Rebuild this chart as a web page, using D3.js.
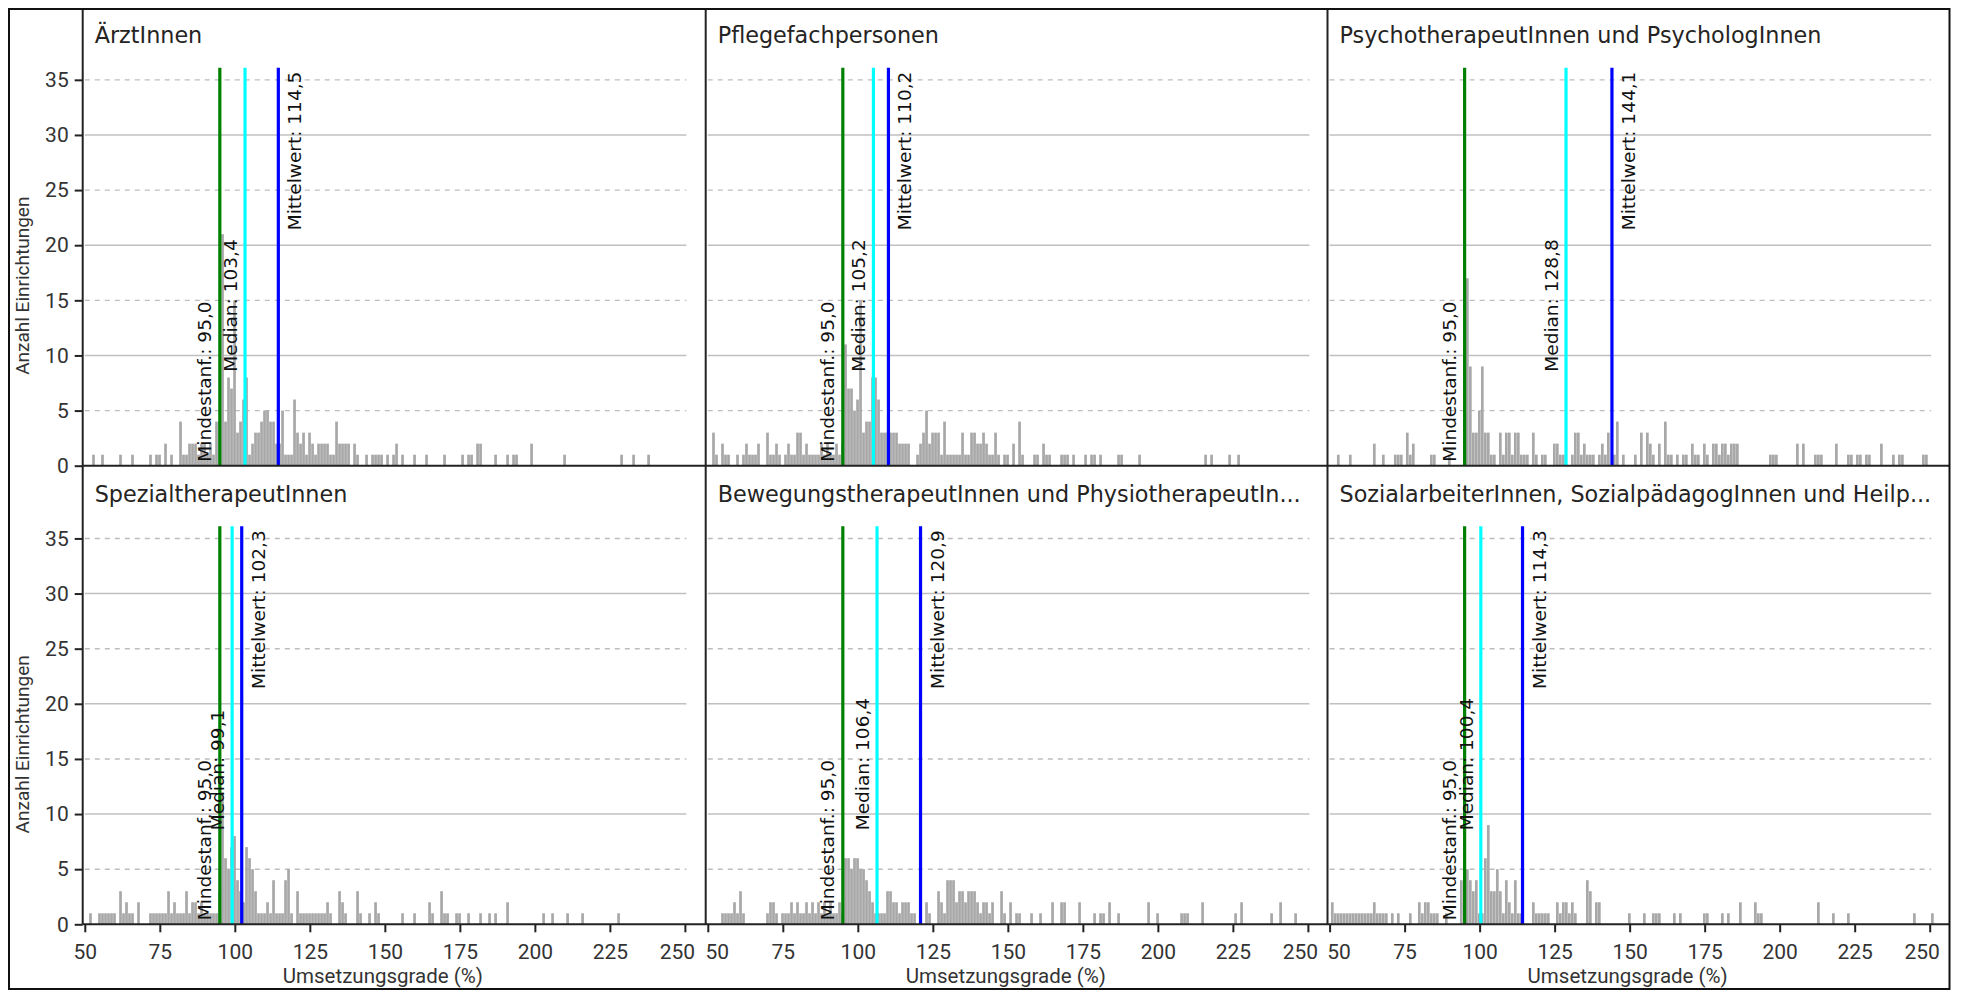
<!DOCTYPE html>
<html><head><meta charset="utf-8">
<script src="https://cdn.jsdelivr.net/npm/d3@7"></script>
<style>body{margin:0;background:#fff;} svg{display:block;}</style>
</head><body>
<svg id="chart" width="1961" height="992"></svg>
<script>
// ---------------- data ----------------
const titles = [
  "ÄrztInnen",
  "Pflegefachpersonen",
  "PsychotherapeutInnen und PsychologInnen",
  "SpezialtherapeutInnen",
  "BewegungstherapeutInnen und PhysiotherapeutIn...",
  "SozialarbeiterInnen, SozialpädagogInnen und Heilp..."
];
const minReq  = [95.0, 95.0, 95.0, 95.0, 95.0, 95.0];
const medians = [103.4, 105.2, 128.8, 99.1, 106.4, 100.4];
const means   = [114.5, 110.2, 144.1, 102.3, 120.9, 114.3];
const xTicks = [50, 75, 100, 125, 150, 175, 200, 225, 250];
const yTicks = [0, 5, 10, 15, 20, 25, 30, 35];
const xTitle = "Umsetzungsgrade (%)";
const yTitle = "Anzahl Einrichtungen";

// histogram bins: [bin start (%), number of institutions]
const binsAerzte = [[52,1],[55,1],[61,1],[65,1],[71,1],[73,1],[74,1],[76,2],[78,1],[81,4],[82,1],[83,1],[84,2],[85,2],[86,2],[87,1],[88,2],[89,2],[90,1],[91,2],[92,1],[93,4],[94,4],
  [95,21],[96,4],[97,8],[98,7],[99,15],[100,3],[101,4],[102,6],[103,8],[104,1],[105,2],[106,3],[107,3],[108,4],[109,5],[110,5],[111,4],[112,4],[113,2],[114,2],[115,5],[116,1],[117,1],[118,1],[119,6],[120,3],[121,2],[122,3],[123,1],[124,3],[125,2],[126,1],[127,2],[128,2],[129,2],[130,2],[131,1],[132,1],[133,4],[134,2],[135,2],[136,2],[137,2],[139,2],[140,1],[143,1],[145,1],[146,1],[147,1],[148,1],[150,1],[152,1],[153,2],[155,1],[159,1],[163,1],[169,1],[175,1],[177,1],[178,1],[180,2],[181,2],[186,1],[190,1],[192,1],[193,1],[198,2],[209,1],[228,1],[232,1],[237,1]];
const binsPflege = [[51,3],[52,1],[54,2],[55,1],[56,1],[59,1],[61,1],[62,2],[63,1],[64,1],[65,1],[66,2],[69,3],[70,1],[71,1],[72,2],[73,1],[75,1],[76,2],[77,1],[78,1],[79,3],[80,3],[81,1],[82,2],[83,1],[84,1],[85,1],[86,1],[87,2],[88,1],[89,2],[90,1],[91,1],[92,2],[93,1],[94,2],
  [95,11],[96,7],[97,7],[98,5],[99,6],[100,15],[101,3],[102,4],[103,4],[104,8],[105,8],[106,6],[107,3],[108,3],[109,3],[110,3],[111,3],[112,3],[113,2],[114,2],[115,2],[116,2],[119,1],[120,2],[121,3],[122,5],[123,2],[124,3],[125,3],[126,3],[127,1],[128,4],[129,1],[130,1],[131,1],[132,1],[133,1],[134,3],[135,1],[136,1],[137,3],[138,3],[139,2],[140,2],[141,3],[142,2],[143,1],[144,1],[145,3],[146,1],[148,1],[149,1],[151,2],[153,4],[154,1],[158,1],[159,1],[161,2],[162,1],[163,1],[167,1],[168,1],[169,1],[171,1],[175,1],[177,1],[178,1],[180,1],[186,1],[187,1],[193,1],[215,1],[217,1],[223,1],[226,1]];
const binsPsycho = [[52,1],[56,1],[64,2],[67,1],[71,1],[72,1],[73,1],[75,3],[76,1],[77,2],[83,1],[84,1],[89,1],
  [95,17],[96,9],[97,3],[98,3],[99,5],[100,9],[101,3],[102,3],[103,1],[104,1],[106,3],[107,1],[108,3],[109,3],[110,1],[111,3],[112,3],[113,1],[114,1],[115,1],[117,3],[118,1],[120,1],[121,1],[124,2],[125,2],[126,1],[127,1],[130,1],[131,3],[132,3],[133,1],[134,2],[135,1],[136,1],[137,1],[139,1],[140,2],[141,1],[142,3],[144,1],[145,4],[147,1],[151,1],[153,3],[155,3],[156,2],[157,1],[159,2],[161,4],[162,1],[163,1],[165,1],[167,1],[168,1],[170,2],[171,1],[172,1],[174,2],[175,1],[177,2],[178,2],[179,1],[180,2],[181,2],[182,1],[183,2],[184,2],[185,2],[196,1],[197,1],[198,1],[205,2],[207,2],[211,1],[212,1],[213,1],[218,2],[222,1],[223,1],[225,1],[226,1],[228,1],[229,1],[233,2],[237,1],[239,1],[240,1],[247,1],[248,1]];
const binsSpezial = [[51,1],[54,1],[55,1],[56,1],[57,1],[58,1],[59,1],[61,3],[62,1],[63,2],[64,1],[65,1],[67,2],[71,1],[72,1],[73,1],[74,1],[75,1],[76,1],[77,3],[78,1],[79,2],[80,1],[81,1],[82,1],[83,3],[84,1],[85,2],[86,2],[87,1],[88,2],[89,1],[90,1],[91,1],[92,1],[93,1],[94,3],
  [95,12],[96,6],[97,5],[98,7],[99,8],[100,4],[101,3],[102,2],[103,7],[104,6],[105,5],[106,3],[107,1],[108,1],[109,1],[110,2],[111,1],[112,4],[113,1],[114,1],[115,1],[116,4],[117,5],[118,1],[120,3],[121,1],[122,1],[123,1],[124,1],[125,1],[126,1],[127,1],[128,1],[129,1],[130,2],[131,1],[134,3],[135,2],[136,1],[140,3],[141,1],[144,1],[146,2],[147,1],[155,1],[159,1],[164,2],[165,1],[168,3],[169,1],[170,1],[173,1],[174,1],[177,1],[181,1],[184,1],[186,1],[190,2],[202,1],[205,1],[210,1],[215,1],[227,1]];
const binsBewegung = [[54,1],[55,1],[56,1],[57,1],[58,2],[59,1],[60,3],[61,1],[69,1],[70,2],[71,2],[72,1],[74,1],[75,1],[76,1],[77,2],[78,1],[79,2],[80,1],[81,1],[82,2],[83,1],[84,2],[85,1],[86,2],[87,1],[88,2],[89,1],[90,2],[91,1],[92,1],[93,2],[94,1],
  [95,6],[96,6],[97,5],[98,6],[99,6],[100,5],[101,5],[102,4],[103,3],[104,2],[105,1],[106,1],[107,1],[108,1],[109,3],[110,3],[111,2],[112,2],[113,1],[114,2],[115,2],[116,2],[117,1],[118,1],[120,2],[122,2],[123,1],[126,3],[127,2],[128,1],[129,4],[130,4],[131,4],[132,2],[133,3],[134,3],[135,2],[136,3],[137,3],[138,3],[139,2],[140,1],[141,2],[142,2],[143,1],[144,2],[147,3],[148,1],[150,2],[152,1],[153,1],[157,1],[160,1],[164,2],[167,2],[168,2],[173,2],[178,1],[180,1],[181,1],[183,2],[186,1],[196,2],[199,1],[207,1],[208,1],[209,1],[214,2],[225,1],[227,2],[237,1],[240,2],[245,1]];
const binsSozial = [[50,2],[51,1],[52,1],[53,1],[54,1],[55,1],[56,1],[57,1],[58,1],[59,1],[60,1],[61,1],[62,1],[63,1],[64,2],[65,1],[66,1],[67,1],[68,1],[70,1],[72,1],[76,1],[79,2],[80,1],[81,2],[82,2],[83,1],[84,1],[85,1],[88,1],[93,4],[94,5],
  [95,5],[96,4],[97,3],[98,4],[99,1],[100,1],[101,6],[102,9],[103,3],[104,3],[105,5],[106,3],[107,1],[108,4],[109,2],[110,1],[111,4],[112,1],[113,1],[117,2],[118,1],[119,1],[120,1],[121,1],[122,1],[125,2],[126,1],[127,2],[128,2],[129,1],[130,2],[131,1],[135,4],[136,3],[138,2],[139,2],[149,1],[154,1],[157,1],[158,1],[159,1],[164,1],[166,1],[174,1],[175,1],[180,1],[182,1],[186,2],[191,2],[192,1],[193,1],[212,2],[217,1],[222,1],[244,1],[250,1]];

const panelBins = [binsAerzte, binsPflege, binsPsycho, binsSpezial, binsBewegung, binsSozial];

// ---------------- layout ----------------
const W = 1961, H = 992;
const colLeft = [82.7, 705.7, 1327.5];
const panelW = 622;
const rowAxis = [465.7, 924.3];
const plotH = 398;
const FONT = "Roboto, 'Liberation Sans', sans-serif";
const LFONT = "'DejaVu Sans', 'Liberation Sans', sans-serif";
const fmt = v => d3.format(".1f")(v).replace(".", ",");

const svg = d3.select("#chart");
svg.append("rect").attr("width", W).attr("height", H).attr("fill", "#fff");

const x = d3.scaleLinear().domain([49.3, 256.6]).range([0, panelW]);
const y = d3.scaleLinear().domain([0, 36.1]).range([plotH, 0]);
const binOffset = 0.45;   // bars drawn just right of the bin edge

const lineColors = ["#008000", "#00ffff", "#0000ff"];

panelBins.forEach((bins, i) => {
  const r = Math.floor(i / 3), c = i % 3;
  const g = svg.append("g")
    .attr("transform", `translate(${colLeft[c]},${rowAxis[r] - plotH})`);

  // gridlines
  g.selectAll("line.grid").data(yTicks.filter(t => t > 0)).join("line")
    .attr("class", "grid")
    .attr("x1", x(50)).attr("x2", x(250.5))
    .attr("y1", d => y(d)).attr("y2", d => y(d))
    .attr("stroke", d => d % 10 === 0 ? "#c0c0c0" : "#bdbdbd")
    .attr("stroke-width", d => d % 10 === 0 ? 1.6 : 1.4)
    .attr("stroke-dasharray", d => d % 10 === 0 ? null : "5,5");

  // bars
  g.selectAll("rect.bar").data(bins).join("rect")
    .attr("class", "bar")
    .attr("x", d => x(d[0] + binOffset))
    .attr("width", d => x(d[0] + 1) - x(d[0]) - 0.3)
    .attr("y", d => y(d[1]))
    .attr("height", d => plotH - y(d[1]))
    .attr("fill", "#a8a8a8");

  // reference lines
  const refs = [minReq[i], medians[i], means[i]];
  g.selectAll("line.ref").data(refs).join("line")
    .attr("class", "ref")
    .attr("x1", d => x(d)).attr("x2", d => x(d))
    .attr("y1", 0).attr("y2", plotH)
    .attr("stroke", (d, k) => lineColors[k])
    .attr("stroke-width", 3.2);

  // reference labels
  const lbl = (txt, lx, ly, anchor, dy) => g.append("text")
    .attr("transform", `translate(${lx},${ly}) rotate(-90)`)
    .attr("text-anchor", anchor)
    .attr("dy", dy)
    .attr("font-family", LFONT).attr("font-size", 18.5)
    .attr("fill", "#111")
    .text(txt);
  lbl("Mindestanf.: " + fmt(minReq[i]), x(minReq[i]) - 9, plotH - 4, "start", 0);
  lbl("Median: " + fmt(medians[i]), x(medians[i]) - 8, plotH - 94, "start", 0);
  lbl("Mittelwert: " + fmt(means[i]), x(means[i]) + 9, 4, "end", "0.76em");

  // title
  svg.append("text")
    .attr("x", colLeft[c] + 12).attr("y", rowAxis[r] - plotH - 24.5)
    .attr("font-family", LFONT).attr("font-size", 22.3)
    .attr("fill", "#252423")
    .text(titles[i]);

  // y axis (first column)
  if (c === 0) {
    const ya = g.append("g").call(d3.axisLeft(y).tickValues(yTicks).tickSize(8).tickPadding(6));
    ya.select(".domain").remove();
    ya.selectAll(".tick line").attr("stroke", "#222").attr("stroke-width", 2);
    ya.selectAll(".tick text").attr("font-family", FONT).attr("font-size", 21).attr("fill", "#333");
    svg.append("text")
      .attr("transform", `translate(22,${rowAxis[r] - 180}) rotate(-90)`)
      .attr("text-anchor", "middle").attr("dy", "0.35em")
      .attr("font-family", FONT).attr("font-size", 19).attr("fill", "#333")
      .text(yTitle);
  }
  // x axis (bottom row)
  if (r === 1) {
    const xa = g.append("g").attr("transform", `translate(0,${plotH})`)
      .call(d3.axisBottom(x).tickValues(xTicks).tickSize(8).tickPadding(12));
    xa.select(".domain").remove();
    xa.selectAll(".tick line").attr("stroke", "#222").attr("stroke-width", 2);
    xa.selectAll(".tick text").attr("font-family", FONT).attr("font-size", 21).attr("fill", "#333")
      .attr("dx", (d, k) => (k === xTicks.length - 1) ? -8 : (k === 0 && c > 0 ? 9 : 0));
    g.append("text")
      .attr("x", (x(50) + x(250)) / 2 - 2).attr("y", plotH + 59)
      .attr("text-anchor", "middle")
      .attr("font-family", FONT).attr("font-size", 20.5).attr("fill", "#333")
      .text(xTitle);
  }
});

// panel separators, axes lines and frame
const frameL = 9, frameT = 9, frameR = 1949.5, frameB = 989;
rowAxis.forEach(ay => svg.append("line")
  .attr("x1", colLeft[0]).attr("x2", frameR).attr("y1", ay).attr("y2", ay)
  .attr("stroke", "#222").attr("stroke-width", 2));
colLeft.forEach(cx => svg.append("line")
  .attr("x1", cx).attr("x2", cx).attr("y1", frameT).attr("y2", rowAxis[1])
  .attr("stroke", "#222").attr("stroke-width", 2));
svg.append("rect")
  .attr("x", frameL).attr("y", frameT)
  .attr("width", frameR - frameL).attr("height", frameB - frameT)
  .attr("fill", "none").attr("stroke", "#111").attr("stroke-width", 2);
</script>
</body></html>
